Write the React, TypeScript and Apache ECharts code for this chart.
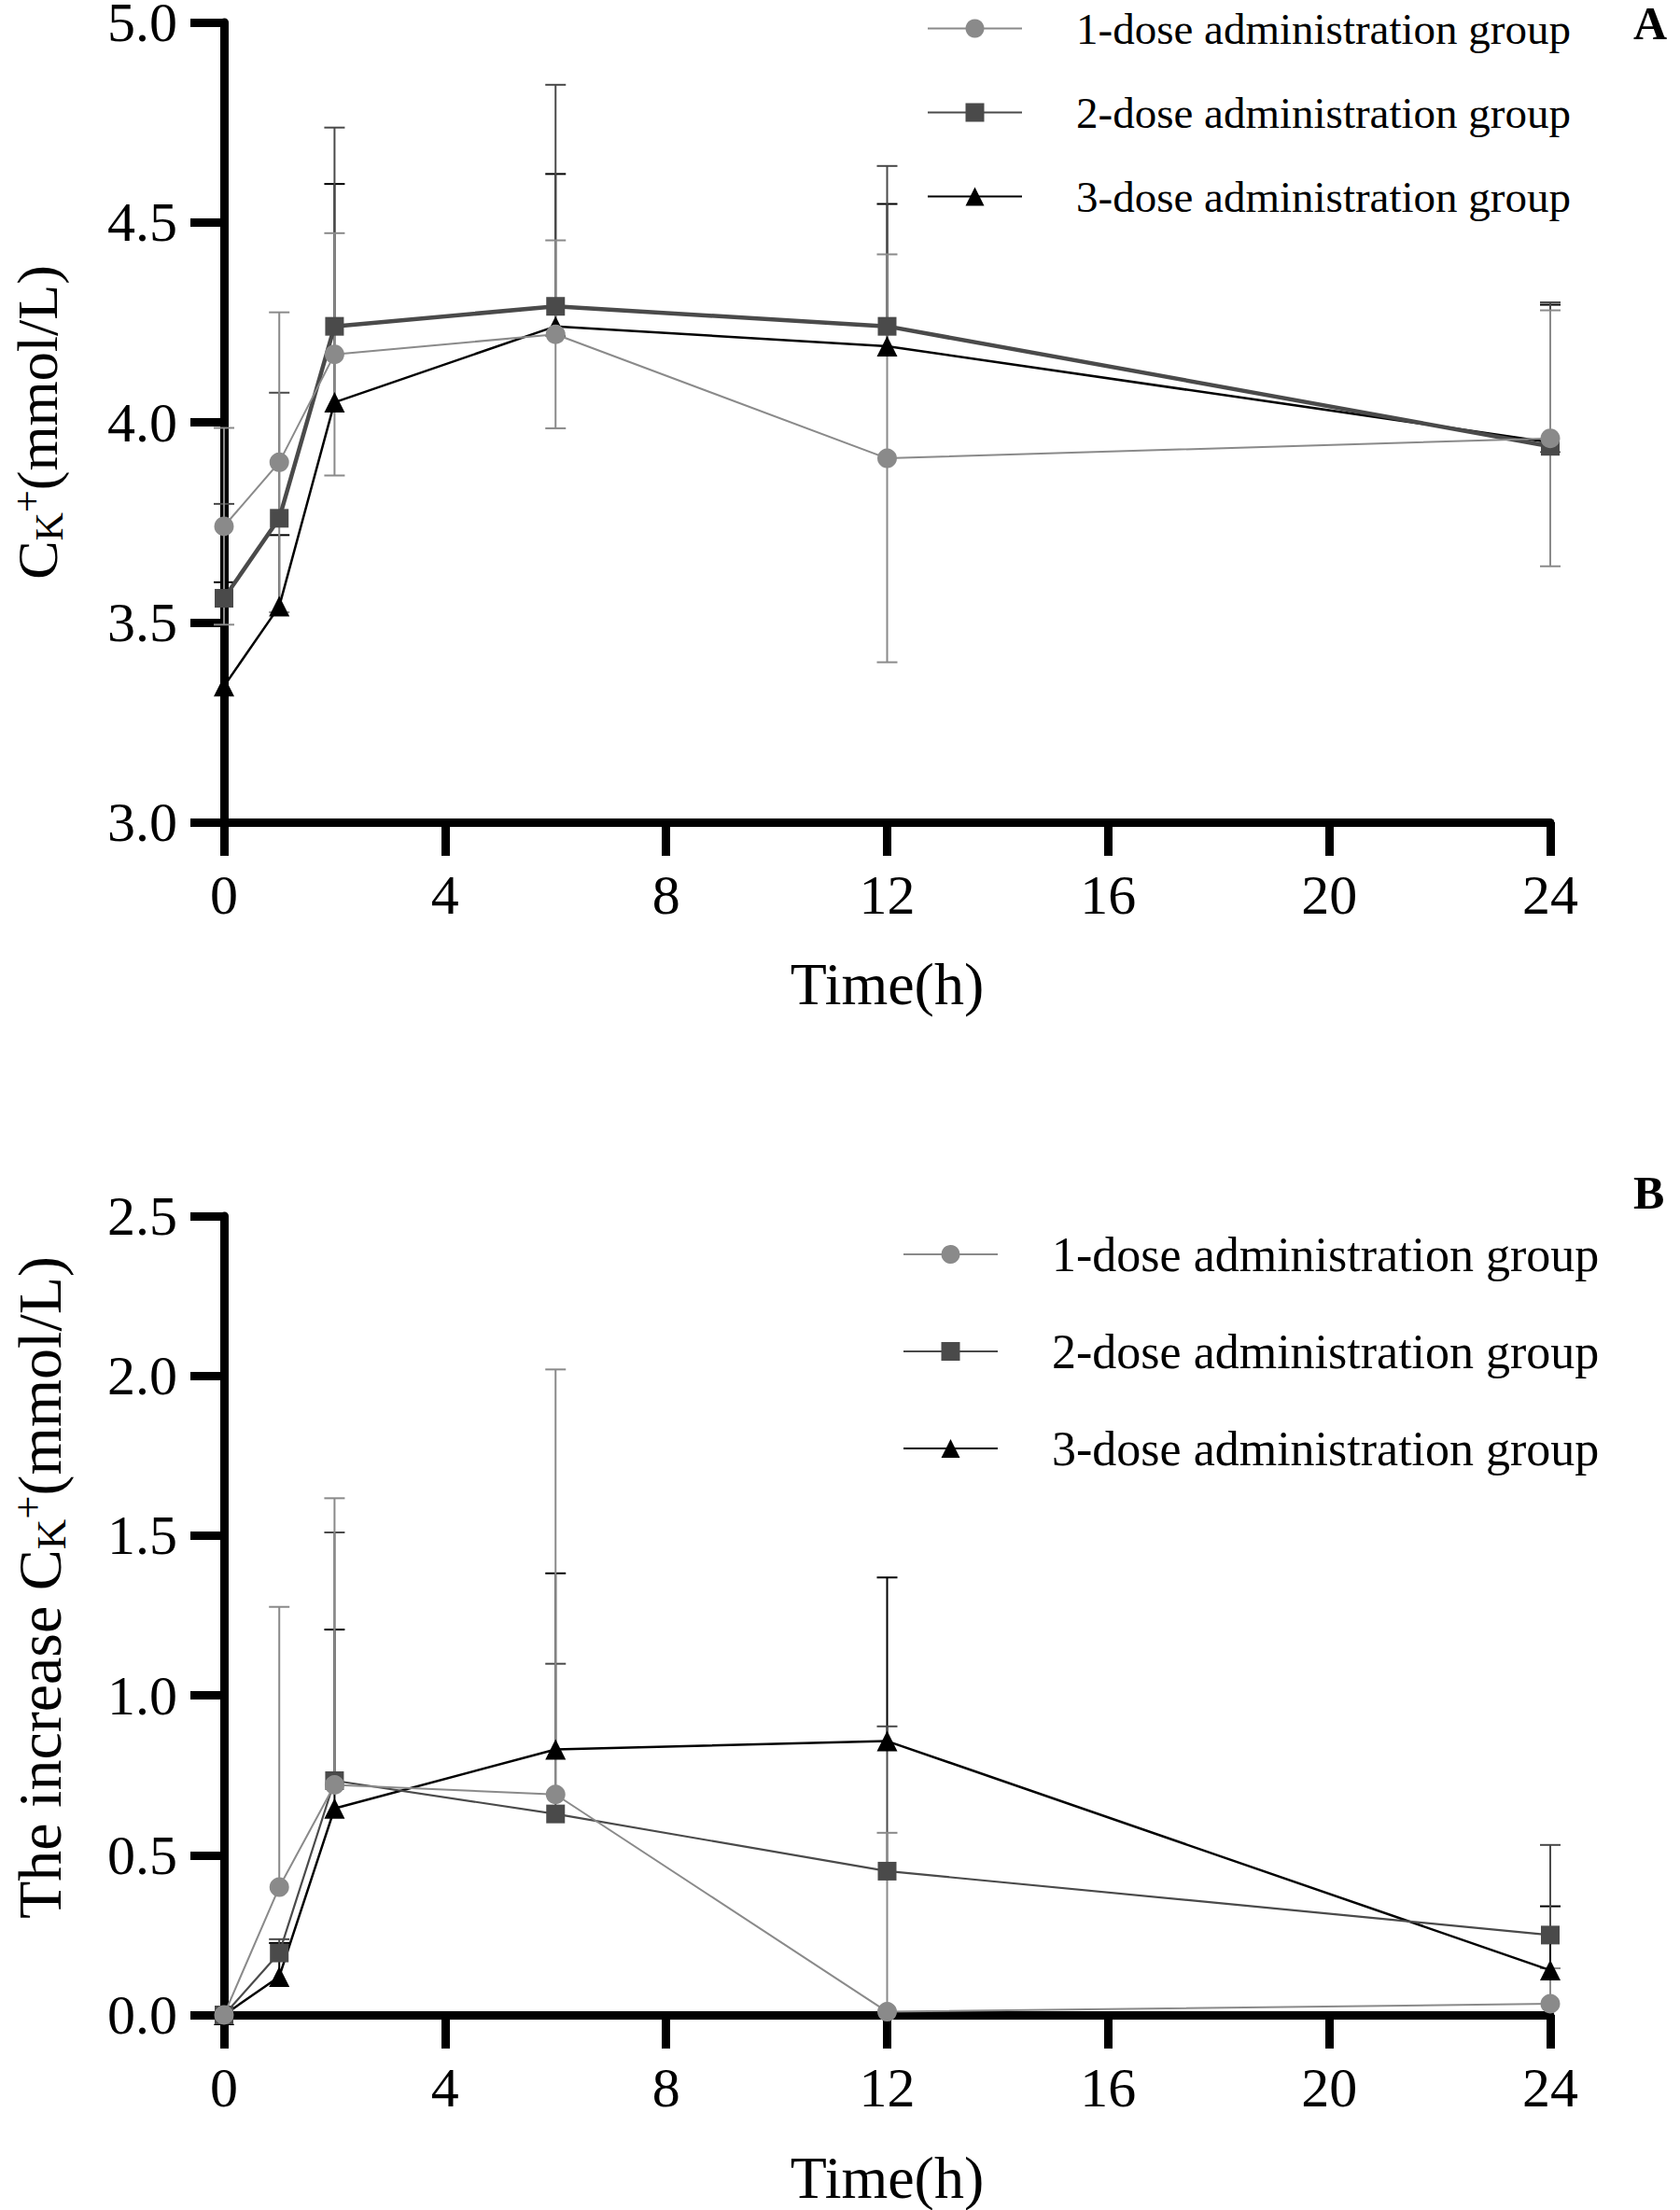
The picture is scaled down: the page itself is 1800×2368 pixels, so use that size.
import React, { useEffect, useRef } from 'react';
import * as echarts from 'echarts';

const FONT = '"Liberation Serif", "Times New Roman", serif';

// sampling times (h)
const timePoints = [0, 1, 2, 6, 12, 24];
const groupNames = ['1-dose administration group', '2-dose administration group', '3-dose administration group'];

// panel A: serum K+ (mmol/L), mean and SD
const aDose1 = [3.74, 3.9, 4.17, 4.22, 3.91, 3.96];
const aDose1Sd = [0.246, 0.375, 0.303, 0.235, 0.51, 0.32];
const aDose2 = [3.56, 3.76, 4.24, 4.29, 4.24, 3.94];
const aDose2Sd = [0.236, 0.314, 0.497, 0.554, 0.401, 0.36];
const aDose3 = [3.34, 3.54, 4.05, 4.24, 4.19, 3.95];
const aDose3Sd = [0.26, 0.178, 0.546, 0.381, 0.356, 0.344];

// panel B: increase of serum K+ (mmol/L), mean and SD
const bDose1 = [0, 0.4, 0.72, 0.69, 0.01, 0.035];
const bDose1Sd = [0, 0.877, 0.897, 1.33, 0.56, 0.111];
const bDose2 = [0, 0.194, 0.733, 0.629, 0.45, 0.25];
const bDose2Sd = [0, 0.043, 0.777, 0.47, 0.453, 0.282];
const bDose3 = [0, 0.12, 0.646, 0.831, 0.857, 0.14];
const bDose3Sd = [0, 0.105, 0.56, 0.551, 0.512, 0.2];

const xTicks = { min: 0, max: 24, interval: 4 };
const aYTicks = { min: 3, max: 5, interval: 0.5 };
const bYTicks = { min: 0, max: 2.5, interval: 0.5 };

const GREY = '#8a8a8a';
const DARK = '#4a4a4a';
const BLACK = '#000000';

const stripPanel = (name: string) => name.split('#')[0];

const errorBars = (id: string, idx: number, means: number[], sds: number[], color: string, both: boolean) => ({
  type: 'custom',
  name: id,
  xAxisIndex: idx,
  yAxisIndex: idx,
  z: 2,
  silent: true,
  data: timePoints.map((t, i) => [t, means[i], sds[i]]),
  renderItem: (params: any, api: any) => {
    const x = api.value(0);
    const m = api.value(1);
    const e = api.value(2);
    if (!e) return null;
    const top = api.coord([x, m + e]);
    const bot = api.coord([x, both ? m - e : m]);
    const half = 11;
    const style = { stroke: color, lineWidth: 2 };
    const children: any[] = [
      { type: 'line', shape: { x1: top[0], y1: top[1], x2: bot[0], y2: bot[1] }, style },
      { type: 'line', shape: { x1: top[0] - half, y1: top[1], x2: top[0] + half, y2: top[1] }, style },
    ];
    if (both) {
      children.push({ type: 'line', shape: { x1: bot[0] - half, y1: bot[1], x2: bot[0] + half, y2: bot[1] }, style });
    }
    return { type: 'group', children };
  },
});

const lineSeries = (
  name: string,
  idx: number,
  values: number[],
  symbol: string,
  size: number,
  color: string,
  width: number,
  z: number
) => ({
  type: 'line',
  name,
  xAxisIndex: idx,
  yAxisIndex: idx,
  data: timePoints.map((t, i) => [t, values[i]]),
  symbol,
  symbolSize: size,
  showSymbol: true,
  clip: false,
  z,
  itemStyle: { color, opacity: 1 },
  lineStyle: { color, width },
  emphasis: { disabled: true },
});

const xAxisBase = (idx: number, gap: number) => ({
  type: 'value',
  gridIndex: idx,
  ...xTicks,
  name: 'Time(h)',
  nameLocation: 'middle',
  nameGap: gap,
  nameTextStyle: { fontFamily: FONT, fontSize: 64, lineHeight: 52, color: BLACK },
  axisLine: { show: true, onZero: false, lineStyle: { color: BLACK, width: 9 } },
  axisTick: { show: true, inside: false, length: 36, lineStyle: { color: BLACK, width: 9 } },
  axisLabel: { fontFamily: FONT, fontSize: 60, lineHeight: 44, color: BLACK, margin: 56 },
  splitLine: { show: false },
});

const yAxisBase = (idx: number, ticks: any, name: string, gap: number, size: number, shift: number) => ({
  type: 'value',
  gridIndex: idx,
  ...ticks,
  name,
  nameLocation: 'middle',
  nameRotate: 90,
  nameGap: gap,
  nameTextStyle: {
    fontFamily: FONT,
    color: BLACK,
    padding: [0, 0, 0, shift],
    rich: {
      m: { fontFamily: FONT, fontSize: size, lineHeight: size * 1.05, color: BLACK },
      s: { fontFamily: FONT, fontSize: size * 0.68, lineHeight: size * 0.6, verticalAlign: 'bottom', color: BLACK },
      p: { fontFamily: FONT, fontSize: size * 0.68, lineHeight: size * 0.4, verticalAlign: 'top', color: BLACK },
    },
  },
  axisLine: { show: true, onZero: false, lineStyle: { color: BLACK, width: 9 } },
  axisTick: { show: true, inside: false, length: 36, lineStyle: { color: BLACK, width: 9 } },
  axisLabel: {
    fontFamily: FONT,
    fontSize: 60,
    lineHeight: 44,
    color: BLACK,
    margin: 50,
    formatter: (v: number) => v.toFixed(1),
  },
  splitLine: { show: false },
});

const legendBase = (names: string[], left: number, top: number, fontSize: number, gap: number) => ({
  data: names,
  orient: 'vertical',
  left,
  top,
  itemWidth: 101,
  itemHeight: 25,
  itemGap: gap,
  selectedMode: false,
  formatter: stripPanel,
  textStyle: { fontFamily: FONT, fontSize, lineHeight: fontSize - 2, color: BLACK, padding: [0, 0, 0, 53] },
});

const App: React.FC = () => {
  const chartRef = useRef<HTMLDivElement>(null);

  useEffect(() => {
    document.body.style.margin = '0';
    if (!chartRef.current) return;
    const chart = echarts.init(chartRef.current, undefined, { renderer: 'svg' });

    const namesA = groupNames.map((n) => n + '#A');
    const namesB = groupNames.map((n) => n + '#B');

    const option = {
      animation: false,
      backgroundColor: '#ffffff',
      grid: [
        { left: 240, top: 24, width: 1421, height: 857, containLabel: false, outerBoundsMode: 'none' },
        { left: 240, top: 1303, width: 1421, height: 856, containLabel: false, outerBoundsMode: 'none' },
      ],
      xAxis: [xAxisBase(0, 147), xAxisBase(1, 148)],
      yAxis: [
        yAxisBase(0, aYTicks, '{m|C}{s|K}{p|+}{m|(mmol/L)}', 167, 62, 0),
        yAxisBase(1, bYTicks, '{m|The increase C}{s|K}{p|+}{m|(mmol/L)}', 163, 66, 60),
      ],
      legend: [legendBase(namesA, 988, 2, 47, 43), legendBase(namesB, 962, 1313, 52, 52)],
      graphic: [
        {
          type: 'text',
          x: 1750,
          y: 25,
          style: {
            text: 'A',
            fontFamily: FONT,
            fontSize: 50,
            lineHeight: 44,
            fontWeight: 'bold',
            fill: BLACK,
            verticalAlign: 'middle',
          },
        },
        {
          type: 'text',
          x: 1750,
          y: 1278,
          style: {
            text: 'B',
            fontFamily: FONT,
            fontSize: 50,
            lineHeight: 44,
            fontWeight: 'bold',
            fill: BLACK,
            verticalAlign: 'middle',
          },
        },
      ],
      series: [
        errorBars('errA3', 0, aDose3, aDose3Sd, BLACK, false),
        errorBars('errA2', 0, aDose2, aDose2Sd, DARK, false),
        errorBars('errA1', 0, aDose1, aDose1Sd, GREY, true),
        lineSeries(namesA[2], 0, aDose3, 'triangle', 22, BLACK, 2.5, 3),
        lineSeries(namesA[1], 0, aDose2, 'rect', 20, DARK, 4.5, 4),
        lineSeries(namesA[0], 0, aDose1, 'circle', 21, GREY, 2, 5),

        errorBars('errB3', 1, bDose3, bDose3Sd, BLACK, false),
        errorBars('errB2', 1, bDose2, bDose2Sd, DARK, false),
        errorBars('errB1', 1, bDose1, bDose1Sd, GREY, false),
        lineSeries(namesB[2], 1, bDose3, 'triangle', 22, BLACK, 2.5, 3),
        lineSeries(namesB[1], 1, bDose2, 'rect', 20, DARK, 2.2, 4),
        lineSeries(namesB[0], 1, bDose1, 'circle', 21, GREY, 2, 5),
      ],
    };

    chart.setOption(option as any);

    return () => {
      chart.dispose();
    };
  }, []);

  return <div ref={chartRef} style={{ width: 1800, height: 2368 }} />;
};

export default App;
